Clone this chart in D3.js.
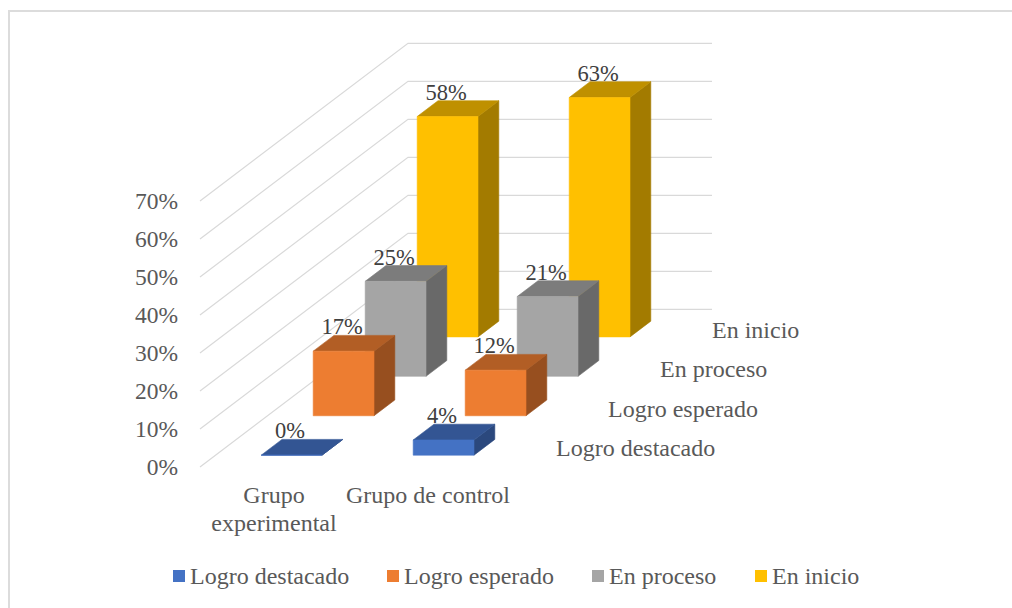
<!DOCTYPE html>
<html>
<head>
<meta charset="utf-8">
<script src="https://cdn.jsdelivr.net/npm/d3@7"></script>
<style>
  html, body { margin: 0; padding: 0; background: #fff; overflow: hidden; }
  svg { display: block; }
  text { font-family: "Liberation Serif", serif; }
</style>
</head>
<body>
<div id="wrapper"></div>
<script>
const categories = ["Grupo experimental", "Grupo de control"]
const seriesNames = ["Logro destacado", "Logro esperado", "En proceso", "En inicio"]
const logroDestacado = [0, 0.04]
const logroEsperado = [0.17, 0.12]
const enProceso = [0.25, 0.21]
const enInicio = [0.58, 0.63]
const seriesValues = [logroDestacado, logroEsperado, enProceso, enInicio]
const yTicks = [0, 0.1, 0.2, 0.3, 0.4, 0.5, 0.6, 0.7]

const frontColors = ["#4472C4", "#ED7D31", "#A5A5A5", "#FFC000"]
const topColors = ["#335593", "#B25E25", "#7C7C7C", "#BF9000"]
const sideColors = ["#2B487D", "#974F1F", "#696969", "#A37B00"]

const drawChart = () => {
  // 1) Dimensions
  const dimensions = {
    width: 1012,
    height: 608,
    originX: 200,
    originY: 467,
    floorWidth: 304,
    depthX: 208,
    depthY: -157.7,
    wallHeight: 266,
  }

  const svg = d3
    .select("#wrapper")
    .append("svg")
    .attr("width", dimensions.width)
    .attr("height", dimensions.height)

  // chart frame, right and bottom sides fall outside the picture
  svg
    .append("rect")
    .attr("x", 9)
    .attr("y", 11)
    .attr("width", 1100)
    .attr("height", 700)
    .attr("fill", "#fff")
    .attr("stroke", "#dcdcdc")
    .attr("stroke-width", 2)

  // 2) Scales
  const xScale = d3
    .scaleBand()
    .domain(categories)
    .range([0, dimensions.floorWidth])
    .paddingInner(0.6)
    .paddingOuter(0.3)

  // depth runs 0 (front) to 1 (back wall)
  const zScale = d3
    .scaleBand()
    .domain(seriesNames)
    .range([0, 1])
    .paddingInner(0.6)
    .paddingOuter(0.3)

  const yScale = d3
    .scaleLinear()
    .domain([0, 0.7])
    .range([0, dimensions.wallHeight])

  // oblique projection of floor x, depth z, height y
  const project = (x, z, y) => [
    dimensions.originX + x + z * dimensions.depthX,
    dimensions.originY + z * dimensions.depthY - y,
  ]
  const face = (points) => d3.line()(points.map((p) => project(...p))) + "Z"

  // 3) Gridlines on side wall and back wall
  const grid = svg.append("g").attr("fill", "none").attr("stroke", "#d9d9d9")
  yTicks.forEach((t) => {
    const y = yScale(t)
    grid
      .append("path")
      .attr("stroke-width", 1.2)
      .attr(
        "d",
        d3.line()([
          project(0, 0, y),
          project(0, 1, y),
          project(dimensions.floorWidth, 1, y),
        ])
      )
  })

  // 4) Bars, back series first so nearer ones overlap
  const bars = svg.append("g")
  d3.range(seriesNames.length - 1, -1, -1).forEach((s) => {
    const z0 = zScale(seriesNames[s])
    const z1 = z0 + zScale.bandwidth()
    categories.forEach((c, i) => {
      const x0 = xScale(c)
      const x1 = x0 + xScale.bandwidth()
      const h = yScale(seriesValues[s][i])
      const g = bars.append("g").attr("stroke-width", 0.6)
      g.append("path")
        .attr("fill", sideColors[s])
        .attr("stroke", sideColors[s])
        .attr("d", face([[x1, z0, 0], [x1, z1, 0], [x1, z1, h], [x1, z0, h]]))
      g.append("path")
        .attr("fill", topColors[s])
        .attr("stroke", topColors[s])
        .attr("d", face([[x0, z0, h], [x1, z0, h], [x1, z1, h], [x0, z1, h]]))
      g.append("path")
        .attr("fill", frontColors[s])
        .attr("stroke", frontColors[s])
        .attr("d", face([[x0, z0, 0], [x1, z0, 0], [x1, z0, h], [x0, z0, h]]))
    })
  })

  // 5) Data labels sit above the back edge of the top face
  const labels = svg.append("g").attr("fill", "#404040").style("font-size", "22.5px")
  seriesNames.forEach((name, s) => {
    const z0 = zScale(name)
    const z1 = z0 + zScale.bandwidth()
    categories.forEach((c, i) => {
      const v = seriesValues[s][i]
      const xMid = xScale(c) + xScale.bandwidth() / 2
      labels
        .append("text")
        .attr("x", project(xMid, z0, 0)[0] - 1.5)
        .attr("y", project(xMid, z1, yScale(v))[1] - 1)
        .attr("text-anchor", "middle")
        .text(d3.format(".0%")(v))
    })
  })

  // 6) Peripherals
  const axisScale = d3
    .scaleLinear()
    .domain([0, 0.7])
    .range([dimensions.originY, dimensions.originY - dimensions.wallHeight])
  const yAxis = svg
    .append("g")
    .attr("transform", `translate(${dimensions.originX - 22}, 0)`)
    .call(
      d3
        .axisLeft(axisScale)
        .tickValues(yTicks)
        .tickFormat(d3.format(".0%"))
        .tickSize(0)
        .tickPadding(0)
    )
  yAxis.select(".domain").remove()
  yAxis
    .selectAll("text")
    .attr("fill", "#595959")
    .attr("font-family", "Liberation Serif")
    .attr("font-size", 23.5)

  // category labels, first one wraps on two lines
  const catLines = [["Grupo", "experimental"], ["Grupo de control"]]
  const catShift = [-2, 0]
  const catText = svg
    .append("g")
    .attr("fill", "#595959")
    .attr("text-anchor", "middle")
    .style("font-size", "24px")
  categories.forEach((c, i) => {
    catLines[i].forEach((line, j) => {
      catText
        .append("text")
        .attr("x", dimensions.originX + xScale(c) + xScale.bandwidth() / 2 + catShift[i])
        .attr("y", 503 + j * 28)
        .text(line)
    })
  })

  // depth labels follow the floor's right edge
  const depthText = svg.append("g").attr("fill", "#595959").style("font-size", "24px")
  seriesNames.forEach((name) => {
    const [x, y] = project(
      dimensions.floorWidth,
      zScale(name) + zScale.bandwidth() / 2,
      0
    )
    depthText
      .append("text")
      .attr("x", x + 26)
      .attr("y", y + 9)
      .text(name)
  })

  // legend
  const legendX = [173, 387, 592, 755]
  const legend = svg.append("g")
  seriesNames.forEach((name, s) => {
    legend
      .append("rect")
      .attr("x", legendX[s])
      .attr("y", 570)
      .attr("width", 12)
      .attr("height", 12)
      .attr("fill", frontColors[s])
    legend
      .append("text")
      .attr("x", legendX[s] + 17)
      .attr("y", 584)
      .attr("fill", "#595959")
      .style("font-size", "24px")
      .text(name)
  })
}

drawChart()
</script>
</body>
</html>
